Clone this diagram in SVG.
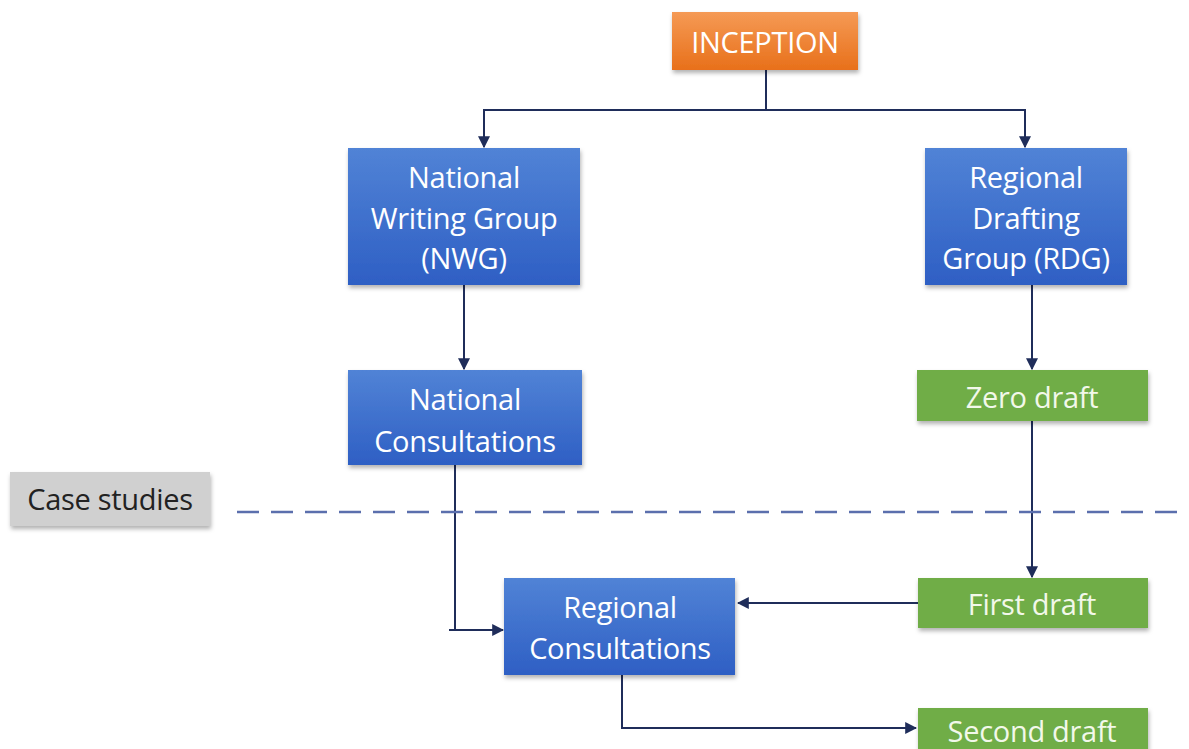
<svg xmlns="http://www.w3.org/2000/svg" width="1189" height="749" viewBox="0 0 1189 749">
<style>
.t{font-family:"Open Sans","Liberation Sans",sans-serif;font-size:29px;fill:#fff;text-anchor:middle;dominant-baseline:central;letter-spacing:-0.3px}
.tg{fill:#f2f8ea}
.tk{fill:#222}
.blue{fill:url(#gb)}
.green{fill:#70ad47}
.c{fill:none;stroke:#1f2d5a;stroke-width:2}
</style>
<defs>
<linearGradient id="gb" x1="0" y1="0" x2="0" y2="1"><stop offset="0" stop-color="#5183d6"/><stop offset="1" stop-color="#2e5fc4"/></linearGradient>
<linearGradient id="go" x1="0" y1="0" x2="0" y2="1"><stop offset="0" stop-color="#f59a55"/><stop offset="1" stop-color="#e8701a"/></linearGradient>
<filter id="sh" x="-10%" y="-10%" width="125%" height="130%"><feDropShadow dx="1" dy="3" stdDeviation="2" flood-color="#000" flood-opacity="0.3"/></filter>
<marker id="ah" viewBox="0 0 10 10" refX="9" refY="5" markerWidth="6" markerHeight="6" orient="auto"><path d="M0 0L10 5L0 10z" fill="#1f2d5a"/></marker>
</defs>
<rect width="1189" height="749" fill="#fff"/>
<g id="connectors">
<path class="c" d="M766 70V110H484V147" marker-end="url(#ah)"/>
<path class="c" d="M766 110H1025V147" marker-end="url(#ah)"/>
<path class="c" d="M464 285V369" marker-end="url(#ah)"/>
<path class="c" d="M1032 285V369" marker-end="url(#ah)"/>
<path class="c" d="M1032 421V577" marker-end="url(#ah)"/>
<path class="c" d="M455 465V630"/>
<path class="c" d="M449 630H503" marker-end="url(#ah)"/>
<path class="c" d="M918 603H738" marker-end="url(#ah)"/>
<path class="c" d="M622 675V728H916" marker-end="url(#ah)"/>
<path d="M237 512H1189" fill="none" stroke="#5b6fad" stroke-width="2.5" stroke-dasharray="22 12"/>
</g>
<g id="inception"><rect x="672" y="12" width="186" height="58" fill="url(#go)" filter="url(#sh)"/><text class="t" x="765" y="41">INCEPTION</text></g>
<g id="nwg"><rect class="blue" x="348" y="148" width="232" height="137" filter="url(#sh)"/><text class="t" x="464" y="176">National</text><text class="t" x="464" y="217">Writing Group</text><text class="t" x="464" y="257">(NWG)</text></g>
<g id="rdg"><rect class="blue" x="925" y="148" width="202" height="137" filter="url(#sh)"/><text class="t" x="1026" y="176">Regional</text><text class="t" x="1026" y="217">Drafting</text><text class="t" x="1026" y="257">Group (RDG)</text></g>
<g id="natcons"><rect class="blue" x="348" y="370" width="234" height="95" filter="url(#sh)"/><text class="t" x="465" y="398">National</text><text class="t" x="465" y="440">Consultations</text></g>
<g id="zero"><rect class="green" x="917" y="370" width="231" height="51" filter="url(#sh)"/><text class="t tg" x="1032" y="396">Zero draft</text></g>
<g id="case"><rect x="10" y="472" width="200" height="54" fill="#d0d0d0" filter="url(#sh)"/><text class="t tk" x="110" y="498">Case studies</text></g>
<g id="regcons"><rect class="blue" x="504" y="578" width="231" height="97" filter="url(#sh)"/><text class="t" x="620" y="606">Regional</text><text class="t" x="620" y="647">Consultations</text></g>
<g id="first"><rect class="green" x="918" y="578" width="230" height="50" filter="url(#sh)"/><text class="t tg" x="1032" y="603">First draft</text></g>
<g id="second"><rect class="green" x="918" y="708" width="230" height="50" filter="url(#sh)"/><text class="t tg" x="1032" y="730">Second draft</text></g>
</svg>
